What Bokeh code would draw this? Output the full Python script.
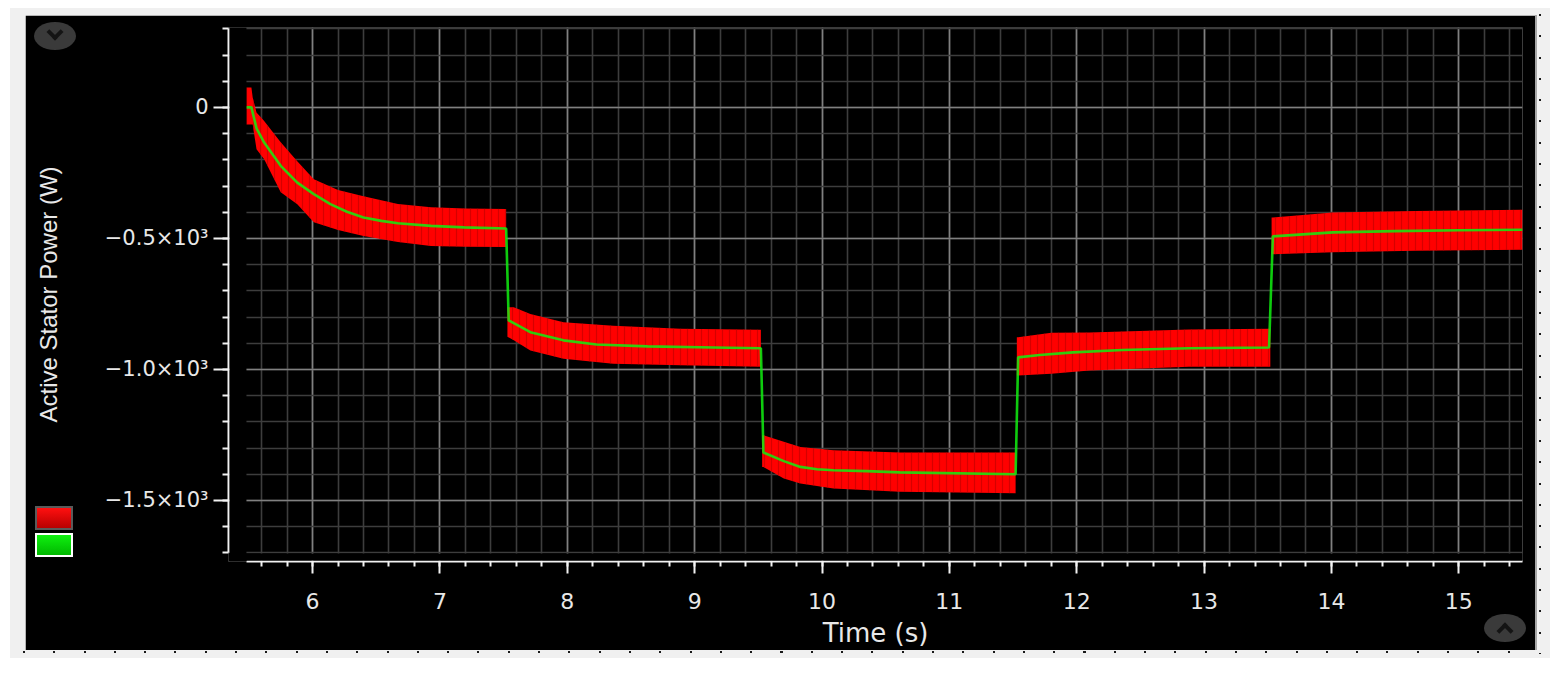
from bokeh.plotting import figure
from bokeh.models import Range1d, SingleIntervalTicker, BoxAnnotation, Spacer
from bokeh.layouts import column, row
from bokeh.embed import file_html
from bokeh.resources import INLINE

# ---------------- data ----------------
# green: mean active stator power (W) vs time (s)
green_t = [5.48, 5.52, 5.56, 5.62, 5.75, 5.88, 6.01, 6.14, 6.27, 6.40, 6.54, 6.67, 6.93, 7.19, 7.52,
           7.54, 7.71, 7.97, 8.23, 8.63, 9.15, 9.52,
           9.54, 9.70, 9.83, 9.96, 10.09, 10.35, 10.61, 11.52,
           11.54, 11.71, 11.97, 12.36, 12.88, 13.51,
           13.54, 14.01, 14.50, 15.00, 15.50]
green_p = [0, 0, -80, -134, -223, -287, -331, -369, -398, -420, -433, -442, -452, -458, -462,
           -813, -858, -889, -905, -912, -916, -919,
           -1317, -1350, -1372, -1381, -1385, -1388, -1393, -1400,
           -954, -945, -935, -926, -919, -916,
           -492, -477, -472, -469, -467]

# red: instantaneous power, upper / lower envelope of the oscillation, per step segment
red1_t = [5.48, 5.52, 5.53, 5.56, 5.62, 5.75, 5.88, 6.01, 6.20, 6.40, 6.67, 6.93, 7.20, 7.52]
red1_hi = [76, 76, 38, -19, -52, -133, -205, -274, -315, -339, -369, -381, -386, -388]
red1_lo = [-65, -65, -65, -160, -198, -324, -370, -438, -468, -491, -514, -529, -532, -533]

red2_t = [7.53, 7.58, 7.71, 7.97, 8.36, 8.89, 9.52]
red2_hi = [-763, -763, -788, -820, -833, -845, -849]
red2_lo = [-875, -889, -928, -959, -978, -984, -990]

red3_t = [9.53, 9.54, 9.70, 9.83, 10.09, 10.61, 11.52]
red3_hi = [-1251, -1251, -1276, -1296, -1308, -1317, -1317]
red3_lo = [-1372, -1372, -1416, -1435, -1454, -1467, -1473]

red4_t = [11.53, 11.54, 11.80, 12.10, 12.88, 13.52]
red4_hi = [-877, -877, -860, -859, -848, -845]
red4_lo = [-1023, -1023, -1016, -1004, -990, -990]

red5_t = [13.53, 13.54, 14.01, 14.66, 15.50]
red5_hi = [-420, -420, -401, -395, -391]
red5_lo = [-560, -560, -553, -547, -543]

y_tick_labels = {0: "0", -500: "\u22120.5\u00d710\u00b3", -1000: "\u22121.0\u00d710\u00b3",
                 -1500: "\u22121.5\u00d710\u00b3"}
x_label = "Time (s)"
y_label = "Active Stator Power (W)"

# ---------------- figure ----------------
TXT = "#e8e8e8"
p = figure(width=1510, height=635, output_backend="svg", toolbar_location=None,
           x_range=Range1d(5.34, 15.50), y_range=Range1d(-1733, 305),
           min_border_left=203, min_border_right=13, min_border_top=12, min_border_bottom=87,
           background_fill_color="black", border_fill_color="black", outline_line_color=None)

xt = SingleIntervalTicker(interval=1, num_minor_ticks=5)
yt = SingleIntervalTicker(interval=500, num_minor_ticks=5)

xa = p.xaxis[0]
xa.ticker = xt
xa.bounds = (5.482, 15.5)
ya = p.yaxis[0]
ya.ticker = yt
ya.bounds = (-1700, 300)
ya.major_label_overrides = y_tick_labels

for ax in (xa, ya):
    ax.axis_line_color = "#f2f2f2"
    ax.axis_line_width = 2
    ax.major_tick_line_color = "#f2f2f2"
    ax.major_tick_line_width = 2
    ax.minor_tick_line_color = "#f2f2f2"
    ax.minor_tick_line_width = 2
    ax.major_tick_in = 0
    ax.minor_tick_in = 0
    ax.major_label_text_font = "DejaVu Sans"
    ax.major_label_text_font_size = "21px"
    ax.major_label_text_color = TXT
    ax.axis_label_text_color = TXT
    ax.axis_label_text_font_style = "normal"

xa.major_tick_out = 12
xa.minor_tick_out = 5
xa.major_label_standoff = 19
xa.major_label_text_font_size = "22px"
xa.axis_label = x_label
xa.axis_label_text_font = "DejaVu Sans"
xa.axis_label_text_font_size = "26px"
xa.axis_label_standoff = 6

ya.major_tick_out = 15
ya.minor_tick_out = 6
ya.major_label_standoff = 5
ya.axis_label = y_label
ya.axis_label_text_font = "Liberation Sans"
ya.axis_label_text_font_size = "24px"
ya.axis_label_standoff = 40

for g, t in ((p.xgrid[0], xt), (p.ygrid[0], yt)):
    g.ticker = t
    g.grid_line_color = "#808080"
    g.grid_line_width = 1.6
    g.minor_grid_line_color = "#3d3d3d"
    g.minor_grid_line_width = 1.6

# mask grid lines in the gap between axes and data area
p.add_layout(BoxAnnotation(left=5.35, right=5.481, fill_color="black", fill_alpha=1, line_color=None))
p.add_layout(BoxAnnotation(bottom=-1729, top=-1702, fill_color="black", fill_alpha=1, line_color=None))

# ---------------- series ----------------
for t, lo, hi in ((red1_t, red1_lo, red1_hi), (red2_t, red2_lo, red2_hi), (red3_t, red3_lo, red3_hi),
                  (red4_t, red4_lo, red4_hi), (red5_t, red5_lo, red5_hi)):
    p.varea(x=t, y1=lo, y2=hi, fill_color="#ff0000", fill_alpha=1,
            hatch_pattern="vertical_line", hatch_color="#b40000", hatch_alpha=0.55,
            hatch_scale=7, hatch_weight=1.2)

p.line(green_t, green_p, line_color="#10ee10", line_width=2.6, line_alpha=0.85)


# ---------------- page frame, legend swatches and corner buttons (CSS) ----------------
def deco(left, top, w, h, **css):
    st = {"position": "absolute", "left": f"{left}px", "top": f"{top}px", "box-sizing": "border-box"}
    st.update(css)
    return Spacer(width=w, height=h, styles=st)


swatch_red = deco(35, 506, 38, 24, **{"background": "linear-gradient(#ff1010, #b80000)",
                                      "border": "2px solid #5a5a5a"})
swatch_green = deco(35, 533, 38, 24, **{"background": "linear-gradient(#10f010, #00b800)",
                                        "border": "2px solid #ffffff"})
btn_tl = deco(34, 22, 42, 28, **{"background-color": "#3a3a3a", "border-radius": "50%"})
chev_tl = deco(49, 26, 12, 12, **{"border-right": "4px solid #141414", "border-bottom": "4px solid #141414",
                                  "transform": "rotate(45deg)"})
btn_br = deco(1484, 614, 42, 28, **{"background-color": "#3a3a3a", "border-radius": "50%"})
chev_br = deco(1499, 625, 12, 12, **{"border-left": "4px solid #141414", "border-top": "4px solid #141414",
                                     "transform": "rotate(45deg)"})
dots_bottom = deco(23, 651, 1515, 2, **{
    "background-image": "repeating-linear-gradient(to right, #1a1a1a 0px, #1a1a1a 2px, transparent 2px, transparent 30.3px)"})
dots_right = deco(1539, 14, 2, 640, **{
    "background-image": "repeating-linear-gradient(to bottom, #1a1a1a 0px, #1a1a1a 2px, transparent 2px, transparent 21.3px)"})

panel = column(Spacer(width=1510, height=7), p, Spacer(width=1510, height=8))
edge = column(Spacer(width=2, height=7),
              Spacer(width=2, height=635, styles={"background-color": "#a6a6a6"}))
inner = row(Spacer(width=15, height=650), panel, edge, Spacer(width=13, height=650),
            styles={"background-color": "#f0f0f0"})
root = row(Spacer(width=10, height=658), column(Spacer(width=1540, height=8), inner),
           swatch_red, swatch_green, btn_tl, chev_tl, btn_br, chev_br, dots_bottom, dots_right)
open("out.html", "w").write(file_html(root, INLINE))
